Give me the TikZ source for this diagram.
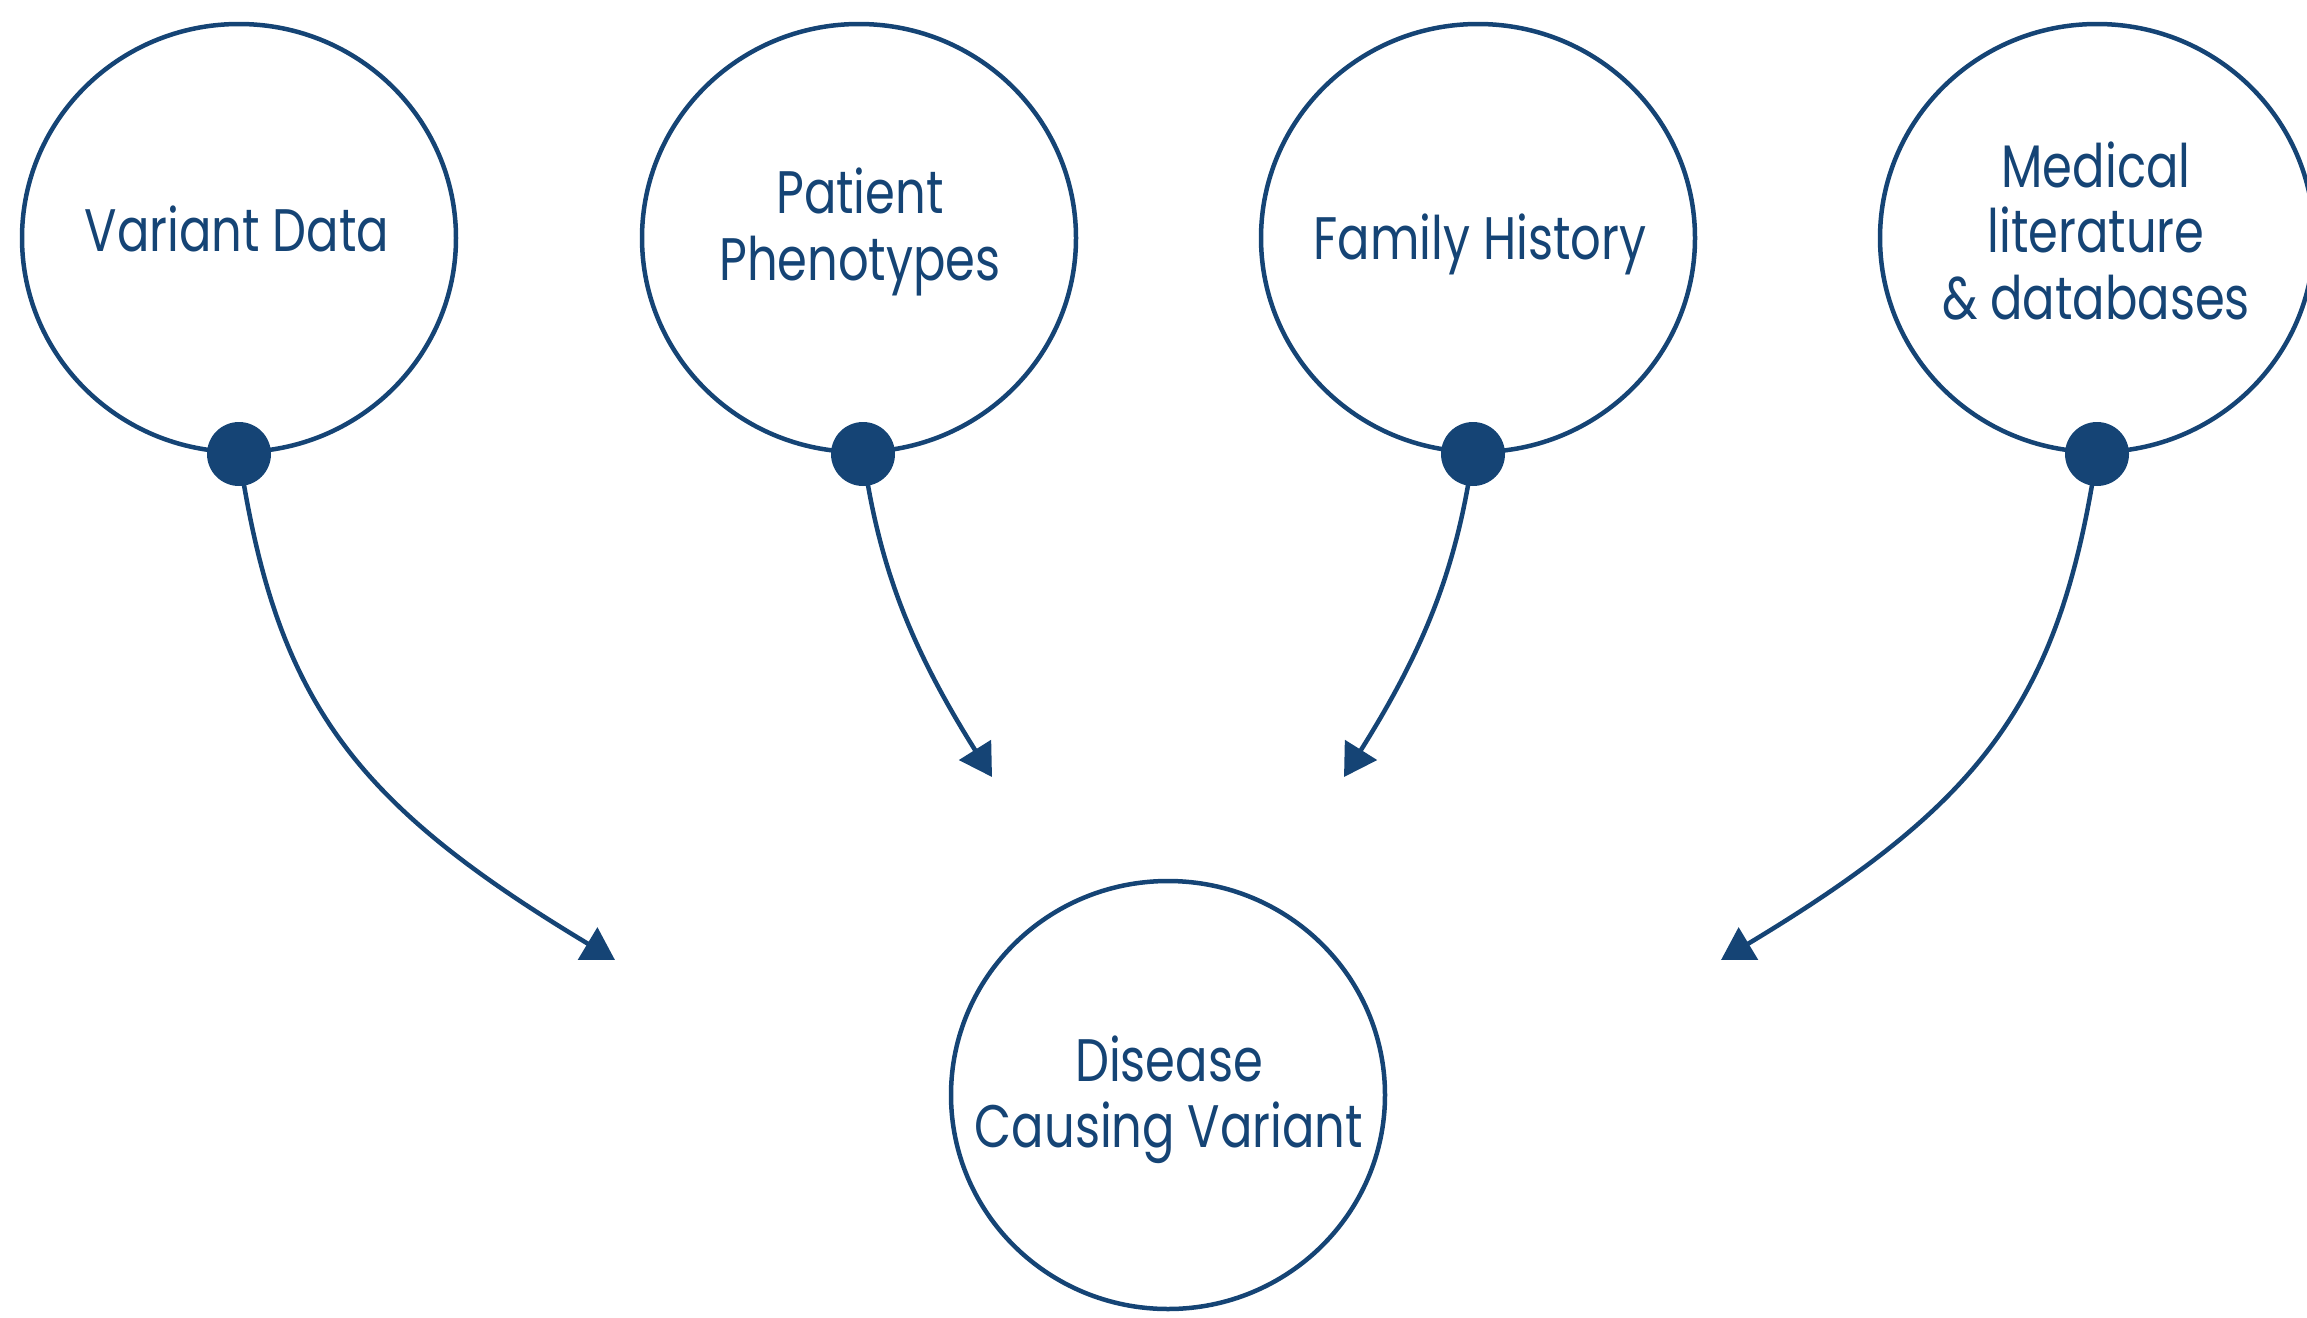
\documentclass[tikz,border=0pt]{standalone}
\usepackage{fontspec}
\setmainfont{Poppins}[FakeStretch=0.8]
\usetikzlibrary{arrows.meta,shapes.geometric}
\definecolor{navy}{RGB}{21,68,117}
\begin{document}
\begin{tikzpicture}[x=1pt,y=-1pt,
  bubble/.style={draw=navy,line width=4.5pt,ellipse,minimum width=434pt,minimum height=428pt,inner sep=0pt},
  knob/.style={fill=navy,circle,minimum size=64pt,inner sep=0pt},
  label/.style={text=navy,anchor=base,inner sep=0pt,font=\fontsize{60}{66}\selectfont},
  flow/.style={draw=navy,line width=4.5pt,-{Triangle[length=32pt,width=37pt]}}]
\useasboundingbox (0,0) rectangle (2307,1317);

% source bubbles and the target bubble
\node[bubble] (c1) at (239,238) {};
\node[bubble] (c2) at (859,238) {};
\node[bubble] (c3) at (1478,238) {};
\node[bubble] (c4) at (2097,238) {};
\node[bubble] (c5) at (1168,1095) {};

% captions
\node[label] (t1) at (237,251) {Variant Data};
\node[label] (t2a) at (860,213) {Patient};
\node[label] (t2b) at (860,280) {Phenotypes};
\node[label] (t3) at (1480,259) {Family History};
\node[label] (t4a) at (2096,187) {Medical};
\node[label] (t4b) at (2096,252) {literature};
\node[label] (t4c) at (2096,319) {\& databases};
\node[label] (t5a) at (1169,1081) {Disease};
\node[label] (t5b) at (1169,1147) {Causing Variant};

% free ends of the arrows
\coordinate (e1) at (615,960);
\coordinate (e2) at (992,777);
\coordinate (e3) at (1344,777);
\coordinate (e4) at (1721,960);

% knob positions on the bubbles
\coordinate (k1) at (239,454);
\coordinate (k2) at (863,454);
\coordinate (k3) at (1473,454);
\coordinate (k4) at (2097,454);

% curved arrows
\draw[flow] (k1) .. controls (276,700) and (352,802) .. (e1);
\draw[flow] (k2) .. controls (879,567) and (911,648) .. (e2);
\draw[flow] (k3) .. controls (1457,567) and (1425,648) .. (e3);
\draw[flow] (k4) .. controls (2060,700) and (1984,802) .. (e4);

% knobs
\node[knob] (d1) at (k1) {};
\node[knob] (d2) at (k2) {};
\node[knob] (d3) at (k3) {};
\node[knob] (d4) at (k4) {};
\end{tikzpicture}
\end{document}
